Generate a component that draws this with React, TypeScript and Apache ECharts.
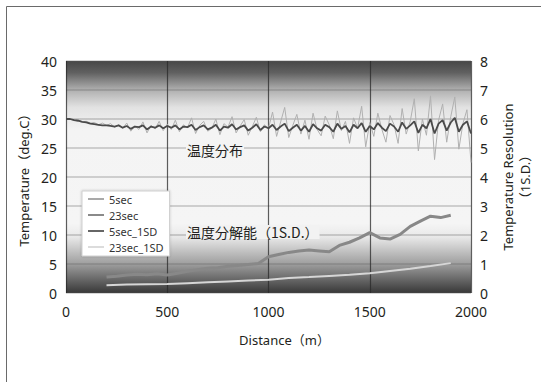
import React, { useEffect, useRef } from "react";
import * as echarts from "echarts";

// Temperature samples every 20 m, 0 … 2000 m
const SAMPLE_STEP_M = 20;
const temp5sec = [
  30.1, 30.0, 29.8, 29.9, 29.5, 29.6, 29.3, 29.4, 29.0, 29.3, 28.9,
  29.2, 28.6, 29.0, 28.4, 29.3, 27.9, 28.8, 28.2, 29.5, 27.6, 28.9, 28.3, 29.6, 28.0, 29.1,
  28.2, 29.8, 27.8, 29.0, 28.5, 30.2, 27.5, 28.9, 29.6, 27.9, 28.4, 30.0, 27.3, 29.2, 28.6,
  30.4, 27.6, 28.8, 29.9, 27.2, 28.7, 30.3, 27.8, 29.0, 28.4,
  31.2, 27.0, 29.5, 32.0, 26.8, 28.9, 30.8, 27.4, 29.8, 26.5, 31.0, 28.2, 27.1, 30.5, 29.0,
  26.6, 31.4, 28.0, 29.6, 25.8, 30.2, 28.4, 32.2, 25.2, 29.4,
  27.0, 31.0, 28.2, 26.0, 30.6, 29.0, 25.8, 31.8, 27.4, 29.6, 33.5, 24.5, 30.0, 27.2, 34.0,
  23.0, 29.8, 32.6, 26.0, 30.4, 33.8, 24.8, 29.2, 31.6, 22.5,
];
const temp23sec = [
  30.0, 30.0, 29.8, 29.7, 29.5, 29.4, 29.2, 29.1, 29.0, 28.9, 28.9,
  28.8, 28.7, 28.9, 28.5, 28.8, 28.3, 28.7, 28.6, 28.9, 28.2, 28.7, 28.5, 28.9, 28.4, 28.8,
  28.5, 28.9, 28.2, 28.7, 28.6, 29.0, 28.1, 28.6, 28.9, 28.2, 28.5, 29.0, 28.0, 28.7, 28.5,
  29.1, 28.2, 28.6, 28.9, 28.0, 28.5, 29.1, 28.1, 28.7, 28.4,
  29.0, 28.1, 28.7, 29.2, 27.9, 28.5, 29.0, 28.0, 28.8, 27.8, 29.1, 28.4, 28.0, 29.0, 28.6,
  27.8, 29.2, 28.3, 28.8, 27.7, 29.0, 28.4, 29.3, 27.8, 28.8,
  28.2, 29.3, 28.5, 27.9, 29.2, 28.7, 27.8, 29.4, 28.3, 28.9, 29.6, 27.6, 29.0, 28.4, 30.0,
  27.5, 29.2, 29.8, 28.0, 29.4, 30.2, 27.8, 29.0, 29.6, 27.5,
];

// Temperature resolution (1 S.D.)
const sd5Distances = [
  200, 250, 300, 350, 400, 450, 500, 550, 600, 650, 700, 750, 800, 850, 900, 950, 1000, 1050,
  1100, 1150, 1200, 1250, 1300, 1350, 1400, 1450, 1500, 1550, 1600, 1650, 1700, 1750, 1800,
  1850, 1900,
];
const sd5sec = [
  0.55, 0.58, 0.62, 0.65, 0.63, 0.66, 0.62, 0.68, 0.75, 0.8, 0.85, 0.87, 0.92, 0.95, 0.98,
  1.02, 1.25, 1.33, 1.4, 1.45, 1.48, 1.45, 1.42, 1.64, 1.75, 1.9, 2.08, 1.9, 1.86, 2.02, 2.3,
  2.48, 2.65, 2.6, 2.68,
];
const sd23Distances = [
  200, 300, 400, 500, 600, 700, 800, 900, 1000, 1100, 1200, 1300, 1400, 1500, 1600, 1700,
  1800, 1900,
];
const sd23sec = [
  0.27, 0.29, 0.3, 0.31, 0.34, 0.37, 0.4, 0.43, 0.46, 0.52, 0.55, 0.59, 0.63, 0.68, 0.76,
  0.84, 0.93, 1.03,
];

const seriesNames = ["5sec", "23sec", "5sec_1SD", "23sec_1SD"];
const annotationTemp = "温度分布";
const annotationRes = "温度分解能（1S.D.）";

const FONT = "'Noto Sans', 'Noto Sans CJK JP', sans-serif";

export default function App() {
  const ref = useRef<HTMLDivElement>(null);

  useEffect(() => {
    if (!ref.current) return;
    const chart = echarts.init(ref.current, undefined, { renderer: "svg" });
    const tempX = temp5sec.map((_, i) => i * SAMPLE_STEP_M);
    const pair = (xs: number[], ys: number[]) => ys.map((y, i) => [xs[i], y]);

    const bg = new echarts.graphic.LinearGradient(0, 0, 0, 1, [
      { offset: 0, color: "#474747" },
      { offset: 0.05, color: "#606060" },
      { offset: 0.125, color: "#b0b0b0" },
      { offset: 0.2, color: "#e2e2e2" },
      { offset: 0.3, color: "#f4f4f4" },
      { offset: 0.7, color: "#f5f5f5" },
      { offset: 0.76, color: "#e8e8e8" },
      { offset: 0.875, color: "#9e9e9e" },
      { offset: 0.95, color: "#606060" },
      { offset: 1, color: "#383838" },
    ]);

    chart.setOption({
      animation: false,
      backgroundColor: "#ffffff",
      textStyle: { fontFamily: FONT },
      grid: {
        left: 66,
        right: 63,
        top: 61,
        bottom: 89,
        show: true,
        backgroundColor: bg,
        borderWidth: 0,
      },
      legend: {
        data: seriesNames,
        orient: "vertical",
        left: 82,
        top: 191,
        padding: [2, 6, 3, 6],
        icon: "rect",
        itemWidth: 16,
        itemHeight: 2,
        itemGap: 4,
        backgroundColor: "#ffffff",
        borderColor: "#cfcfcf",
        borderWidth: 1,
        shadowBlur: 2,
        shadowColor: "rgba(0,0,0,0.25)",
        textStyle: { fontSize: 11, color: "#333", fontFamily: FONT, lineHeight: 12 },
      },
      xAxis: {
        type: "value",
        min: 0,
        max: 2000,
        interval: 500,
        name: "Distance（m）",
        nameLocation: "middle",
        nameGap: 40,
        nameTextStyle: {
          fontSize: 13,
          color: "#231f20",
          fontFamily: FONT,
          padding: [0, 0, 0, 32],
        },
        axisLine: { show: false },
        axisTick: { show: false },
        axisLabel: {
          fontSize: 14,
          color: "#231f20",
          margin: 11,
          fontFamily: FONT,
          lineHeight: 14,
          formatter: (v: number) => String(v),
        },
        splitLine: { show: true, lineStyle: { color: "rgba(40,40,40,0.75)", width: 1.2 } },
      },
      yAxis: [
        {
          type: "value",
          min: 0,
          max: 40,
          interval: 5,
          name: "Temperature（deg.C）",
          nameLocation: "middle",
          nameGap: 30,
          nameTextStyle: { fontSize: 13, color: "#231f20", fontFamily: FONT },
          axisLine: { show: false },
          axisTick: { show: false },
          axisLabel: { fontSize: 14, color: "#231f20", margin: 9, fontFamily: FONT, lineHeight: 14 },
          splitLine: { show: true, lineStyle: { color: "rgba(90,90,90,0.25)", width: 2 } },
        },
        {
          type: "value",
          min: 0,
          max: 8,
          interval: 1,
          name: "Temperature Resolution\n（1S.D.）",
          nameLocation: "middle",
          nameGap: 28,
          nameTextStyle: { fontSize: 13, color: "#231f20", fontFamily: FONT, lineHeight: 17 },
          axisLine: { show: false },
          axisTick: { show: false },
          axisLabel: { fontSize: 14, color: "#231f20", margin: 9, fontFamily: FONT, lineHeight: 14 },
          splitLine: { show: false },
        },
      ],
      series: [
        {
          name: "5sec",
          type: "line",
          symbol: "none",
          data: pair(tempX, temp5sec),
          color: "#a9a9a9",
          lineStyle: { color: "#b0b0b0", width: 1 },
          z: 2,
        },
        {
          name: "23sec",
          type: "line",
          symbol: "none",
          data: pair(tempX, temp23sec),
          color: "#8a8a8a",
          lineStyle: { color: "#4a4a4a", width: 1.8 },
          z: 3,
        },
        {
          name: "5sec_1SD",
          type: "line",
          yAxisIndex: 1,
          symbol: "none",
          data: pair(sd5Distances, sd5sec),
          color: "#666666",
          lineStyle: { color: "#888888", width: 3 },
          z: 4,
        },
        {
          name: "23sec_1SD",
          type: "line",
          yAxisIndex: 1,
          symbol: "none",
          data: pair(sd23Distances, sd23sec),
          color: "#dcdcdc",
          lineStyle: { color: "#d6d6d6", width: 2 },
          z: 5,
        },
      ],
      graphic: [
        {
          type: "rect",
          shape: { x: 6.5, y: 6.5, width: 700, height: 700 },
          style: { fill: "none", stroke: "#6a6a6a", lineWidth: 1 },
          silent: true,
          z: 0,
        },
        {
          type: "text",
          left: 186,
          top: 143,
          z: 20,
          style: {
            text: annotationTemp,
            fontSize: 14,
            fill: "#231f20",
            fontFamily: "'Noto Sans CJK JP', sans-serif",
            backgroundColor: "#f4f4f4",
            padding: [0, 1],
          },
        },
        {
          type: "text",
          left: 186,
          top: 225,
          z: 20,
          style: {
            text: annotationRes,
            fontSize: 14,
            fill: "#231f20",
            fontFamily: "'Noto Sans CJK JP', sans-serif",
            backgroundColor: "#f2f2f2",
            padding: [0, 1],
          },
        },
      ],
    });
    return () => chart.dispose();
  }, []);

  return (
    <div
      ref={ref}
      style={{ position: "absolute", left: 0, top: 0, width: 541, height: 382 }}
    />
  );
}
